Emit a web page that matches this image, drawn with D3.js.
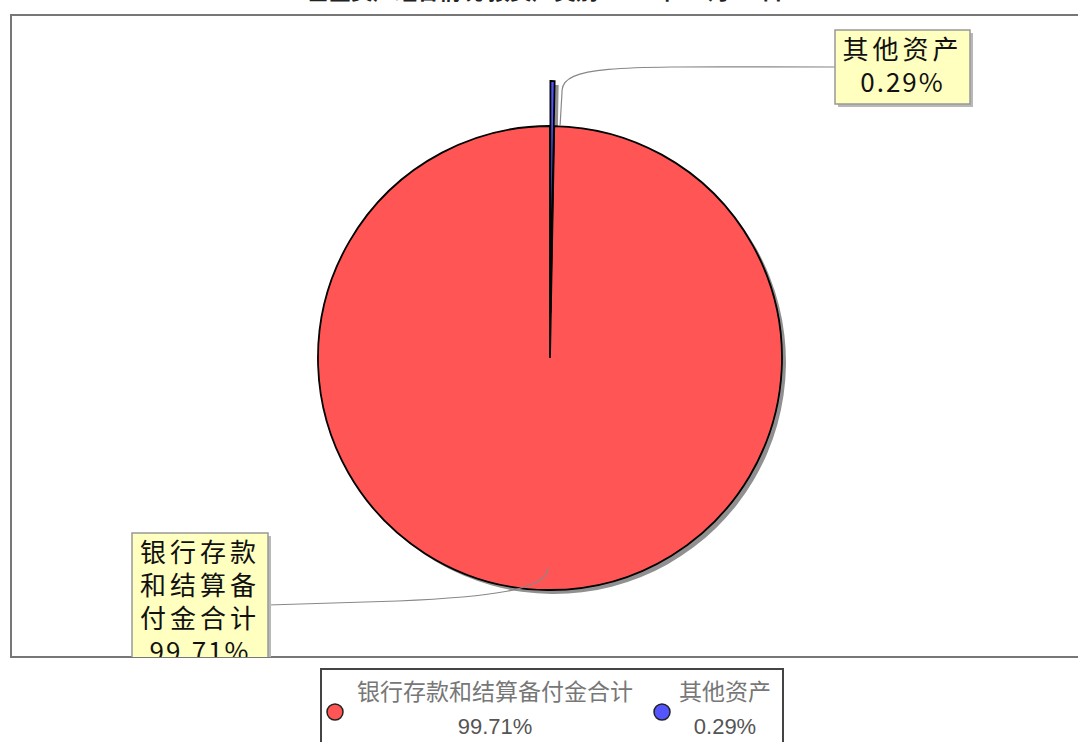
<!DOCTYPE html>
<html><head><meta charset="utf-8">
<script src="https://cdn.jsdelivr.net/npm/d3@7/dist/d3.min.js"></script>
<style>body{margin:0;background:#fff;overflow:hidden}svg{display:block}</style>
</head><body>
<svg id="c" width="1078" height="742"></svg>
<script>
const title = "基金资产组合情况 按资产类别 2023年 06月 30日";
const categories = ["银行存款和结算备付金合计", "其他资产"];
const values = [99.71, 0.29];
const colors = ["#FF5555", "#5555FF"];
const labelLines = [["银行存款", "和结算备", "付金合计", "99.71%"], ["其他资产", "0.29%"]];
const legendPct = ["99.71%", "0.29%"];

const svg = d3.select("#c");
const plot = {x: 11, y: 15, w: 1080, h: 642};
const cx = 550, cy = 358, R = 232;
const explode = [0, 45];

// title (mostly outside the view)
svg.append("text").attr("x", 545).attr("y", -1.5).attr("text-anchor", "middle")
  .attr("font-family", "'Noto Sans CJK SC'").attr("font-size", 22).attr("font-weight", "bold")
  .attr("fill", "#222").text(title);

const defs = svg.append("defs");
defs.append("clipPath").attr("id", "pc").append("rect")
  .attr("x", plot.x).attr("y", plot.y).attr("width", plot.w).attr("height", plot.h);

svg.append("rect").attr("x", plot.x).attr("y", plot.y).attr("width", plot.w).attr("height", plot.h)
  .attr("fill", "#fff").attr("stroke", "#777").attr("stroke-width", 2);

const g = svg.append("g").attr("clip-path", "url(#pc)");

const off = 2 * Math.PI * values[1] / 100;
const pie = d3.pie().sort(null).value(d => d).startAngle(off).endAngle(2 * Math.PI + off);
const arcs = pie(values);
const arc = d3.arc().innerRadius(0).outerRadius(R);

function mid(a) { return (a.startAngle + a.endAngle) / 2; }
function ctr(a, i) {
  const m = mid(a);
  return [cx + explode[i] * Math.sin(m), cy - explode[i] * Math.cos(m)];
}

arcs.forEach((a, i) => {
  const c = ctr(a, i);
  g.append("path").attr("d", arc(a)).attr("transform", `translate(${c[0] + 4},${c[1] + 4})`)
    .attr("fill", "#909090");
});
arcs.forEach((a, i) => {
  const c = ctr(a, i);
  g.append("path").attr("d", arc(a)).attr("transform", `translate(${c[0]},${c[1]})`)
    .attr("fill", colors[i]).attr("stroke", "#000").attr("stroke-width", 1.8);
});

const lineH = 33, fs = 26;
const boxes = [
  {x: 132, y: 533, w: 136, side: "left"},
  {x: 835, y: 30, w: 135, side: "right"}
];
arcs.forEach((a, i) => {
  const b = boxes[i];
  const lines = labelLines[i];
  const h = lines.length * lineH + 8;
  const m = mid(a);
  const rIn = i === 0 ? 210 : 233;
  const p0 = [cx + rIn * Math.sin(m), cy - rIn * Math.cos(m)];
  const ly = b.y + (i === 0 ? 72 : 37);
  const lx = b.side === "left" ? b.x + b.w : b.x;
  let d;
  if (i === 0) {
    d = `M${p0[0]},${p0[1]} C${p0[0]},${p0[1] + 22} ${p0[0] - 60},${ly - 8} ${lx + 130},${ly - 4} L${lx},${ly}`;
  } else {
    d = `M${p0[0] + 8},${p0[1]} L${p0[0] + 10},${p0[1] - 35} C${p0[0] + 12},${ly - 4} ${p0[0] + 80},${ly} ${lx},${ly}`;
  }
  g.append("path").attr("d", d).attr("fill", "none").attr("stroke", "#888").attr("stroke-width", 1.2);
  g.append("rect").attr("x", b.x + 3).attr("y", b.y + 3).attr("width", b.w).attr("height", h).attr("fill", "#b8b8b8");
  g.append("rect").attr("x", b.x).attr("y", b.y).attr("width", b.w).attr("height", h)
    .attr("fill", "#FFFFC0").attr("stroke", "#999").attr("stroke-width", 1.5);
  lines.forEach((t, k) => {
    const isNum = /%$/.test(t);
    g.append("text").attr("x", b.x + b.w / 2).attr("y", b.y + 29 + k * lineH)
      .attr("text-anchor", "middle").attr("font-family", "'Noto Sans CJK SC'")
      .attr("font-size", fs).attr("letter-spacing", isNum ? 2 : 4)
      .attr("fill", "#111").text(t);
  });
});

const lg = svg.append("g");
lg.append("rect").attr("x", 321).attr("y", 669).attr("width", 462).attr("height", 90)
  .attr("fill", "#fff").attr("stroke", "#444").attr("stroke-width", 2);
const items = [{cx: 335, tx: 495}, {cx: 662, tx: 725}];
categories.forEach((c, i) => {
  const it = items[i];
  lg.append("circle").attr("cx", it.cx).attr("cy", 712).attr("r", 8)
    .attr("fill", colors[i]).attr("stroke", "#222").attr("stroke-width", 1.5);
  lg.append("text").attr("x", it.tx).attr("y", 700).attr("text-anchor", "middle")
    .attr("font-family", "'Noto Sans CJK SC'").attr("font-size", 23).attr("fill", "#777").text(c);
  lg.append("text").attr("x", it.tx).attr("y", 734).attr("text-anchor", "middle")
    .attr("font-family", "'Liberation Sans', Arial").attr("font-size", 22).attr("fill", "#555").text(legendPct[i]);
});
</script>
</body></html>
